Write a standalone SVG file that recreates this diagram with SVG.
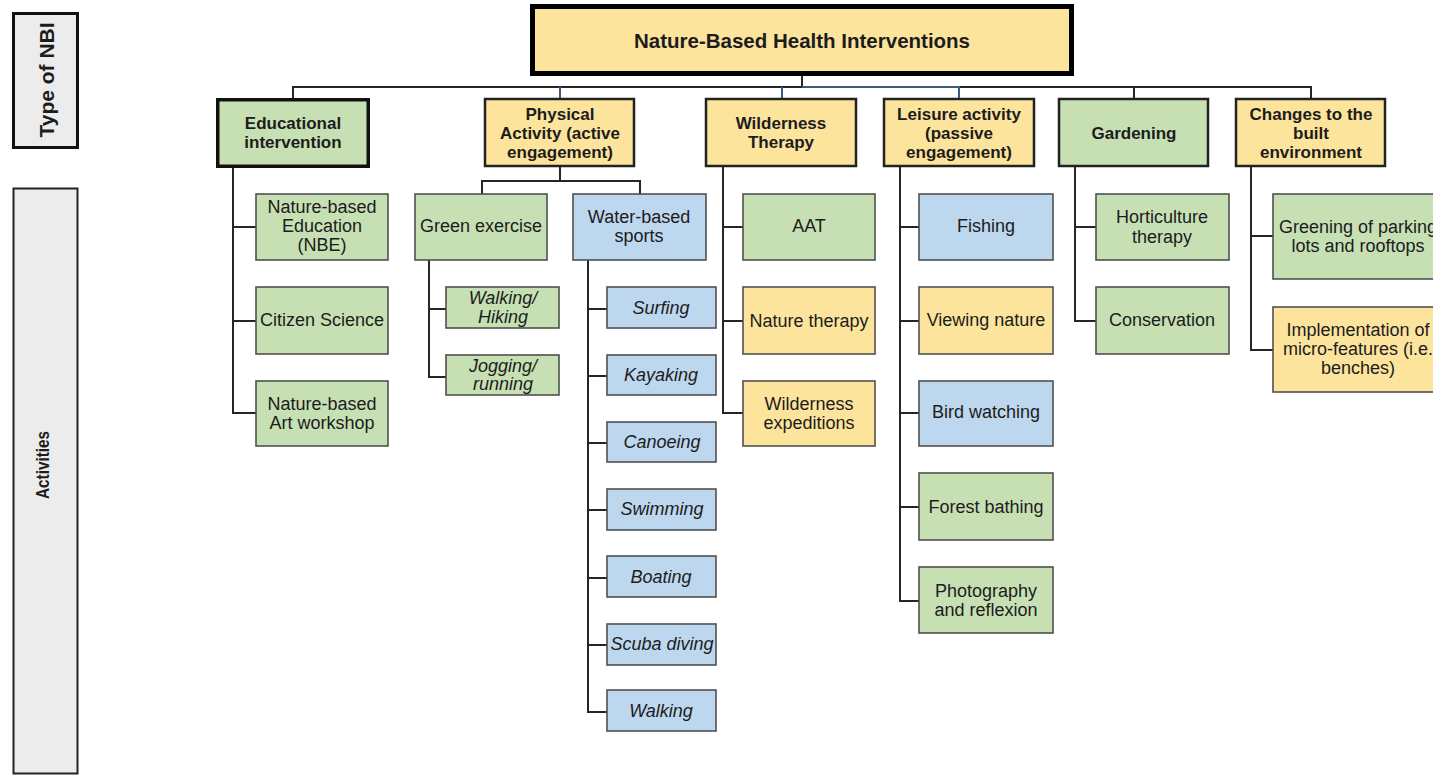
<svg xmlns="http://www.w3.org/2000/svg" width="1433" height="775" viewBox="0 0 1433 775">
<style>
  text { font-family: "Liberation Sans", Arial, sans-serif; fill: #1c1c1c; text-anchor: middle; dominant-baseline: central; }
  .t { font-size: 18px; }
  .it { font-size: 18px; font-style: italic; }
  .l1 { font-size: 17px; font-weight: bold; }
  .title { font-size: 20.5px; font-weight: bold; }
  .side { font-size: 21px; font-weight: bold; }
  .act { font-size: 18px; font-weight: bold; }
  .y { fill: #fde49c; }
  .g { fill: #c6e0b4; }
  .b { fill: #bdd7ee; }
  .child { stroke: #505050; stroke-width: 1.6; }
  .lvl1 { stroke: #222; stroke-width: 2.5; }
  .conn line, .conn polyline { stroke: #262626; stroke-width: 2; fill: none; }
  .conn .blue { stroke: #3d5a85; }
</style>

<g id="label-type">
  <rect x="13.5" y="13.5" width="64" height="134" fill="#ececec" stroke="#111" stroke-width="3"/>
  <text class="side" transform="translate(46,80) rotate(-90)">Type of NBI</text>
</g>
<g id="label-activities">
  <rect x="13.5" y="188.5" width="64" height="585" fill="#ececec" stroke="#222" stroke-width="2"/>
  <text class="act" transform="translate(43,465) rotate(-90)" textLength="68" lengthAdjust="spacingAndGlyphs">Activities</text>
</g>

<g class="conn" id="connectors">
  <line x1="802" y1="76" x2="802" y2="87" stroke-width="3"/>
  <line x1="292" y1="87" x2="802" y2="87"/>
  <line class="blue" x1="802" y1="87" x2="960" y2="87"/>
  <line x1="960" y1="87" x2="1312" y2="87"/>
  <line x1="293" y1="87" x2="293" y2="98"/>
  <line class="blue" x1="560" y1="87" x2="560" y2="98"/>
  <line class="blue" x1="782" y1="87" x2="782" y2="98"/>
  <line class="blue" x1="959" y1="87" x2="959" y2="98"/>
  <line x1="1134" y1="87" x2="1134" y2="98"/>
  <line x1="1311" y1="87" x2="1311" y2="98"/>

  <line x1="233" y1="167" x2="233" y2="414"/>
  <line x1="233" y1="227" x2="256" y2="227"/>
  <line x1="233" y1="321" x2="256" y2="321"/>
  <line x1="233" y1="413" x2="256" y2="413"/>

  <line x1="560" y1="167" x2="560" y2="181"/>
  <polyline points="482,194 482,181 640,181 640,194"/>

  <line x1="429" y1="260" x2="429" y2="378"/>
  <line x1="429" y1="309" x2="446" y2="309"/>
  <line x1="429" y1="377" x2="446" y2="377"/>

  <line x1="588" y1="260" x2="588" y2="713"/>
  <line x1="588" y1="309" x2="607" y2="309"/>
  <line x1="588" y1="376" x2="607" y2="376"/>
  <line x1="588" y1="443" x2="607" y2="443"/>
  <line x1="588" y1="510" x2="607" y2="510"/>
  <line x1="588" y1="578" x2="607" y2="578"/>
  <line x1="588" y1="645" x2="607" y2="645"/>
  <line x1="588" y1="712" x2="607" y2="712"/>

  <line x1="723" y1="167" x2="723" y2="414"/>
  <line x1="723" y1="227" x2="743" y2="227"/>
  <line x1="723" y1="321" x2="743" y2="321"/>
  <line x1="723" y1="413" x2="743" y2="413"/>

  <line x1="900" y1="167" x2="900" y2="602"/>
  <line x1="900" y1="227" x2="919" y2="227"/>
  <line x1="900" y1="321" x2="919" y2="321"/>
  <line x1="900" y1="413" x2="919" y2="413"/>
  <line x1="900" y1="507" x2="919" y2="507"/>
  <line x1="900" y1="601" x2="919" y2="601"/>

  <line x1="1075" y1="167" x2="1075" y2="322"/>
  <line x1="1075" y1="227" x2="1096" y2="227"/>
  <line x1="1075" y1="321" x2="1096" y2="321"/>

  <line x1="1251" y1="167" x2="1251" y2="351"/>
  <line x1="1251" y1="236" x2="1273" y2="236"/>
  <line x1="1251" y1="350" x2="1273" y2="350"/>
</g>

<g id="root">
  <rect class="y" x="532.5" y="6.5" width="539" height="67" stroke="#000" stroke-width="5"/>
  <text class="title" x="802" y="40">Nature-Based Health Interventions</text>
</g>

<g id="educational">
  <rect class="g" x="217.75" y="99.75" width="150.5" height="66.5" stroke="#111" stroke-width="3.5"/>
  <text class="l1" x="293" y="123">Educational</text>
  <text class="l1" x="293" y="142">intervention</text>
</g>
<g id="physical">
  <rect class="y lvl1" x="485" y="99" width="149" height="67"/>
  <text class="l1" x="560" y="114">Physical</text>
  <text class="l1" x="560" y="133">Activity (active</text>
  <text class="l1" x="560" y="152">engagement)</text>
</g>
<g id="wilderness">
  <rect class="y lvl1" x="706" y="99" width="150" height="67"/>
  <text class="l1" x="781" y="123">Wilderness</text>
  <text class="l1" x="781" y="142">Therapy</text>
</g>
<g id="leisure">
  <rect class="y lvl1" x="884" y="99" width="150" height="67"/>
  <text class="l1" x="959" y="114">Leisure activity</text>
  <text class="l1" x="959" y="133">(passive</text>
  <text class="l1" x="959" y="152">engagement)</text>
</g>
<g id="gardening">
  <rect class="g lvl1" x="1059" y="99" width="149" height="67"/>
  <text class="l1" x="1134" y="133">Gardening</text>
</g>
<g id="built">
  <rect class="y lvl1" x="1236" y="99" width="149" height="67"/>
  <text class="l1" x="1311" y="114">Changes to the</text>
  <text class="l1" x="1311" y="133">built</text>
  <text class="l1" x="1311" y="152">environment</text>
</g>

<g id="nbe">
  <rect class="g child" x="256" y="194" width="132" height="66"/>
  <text class="t" x="322" y="207">Nature-based</text>
  <text class="t" x="322" y="226">Education</text>
  <text class="t" x="322" y="245">(NBE)</text>
</g>
<g id="citizen">
  <rect class="g child" x="256" y="287" width="132" height="67"/>
  <text class="t" x="322" y="320">Citizen Science</text>
</g>
<g id="art">
  <rect class="g child" x="256" y="381" width="132" height="65"/>
  <text class="t" x="322" y="404">Nature-based</text>
  <text class="t" x="322" y="423">Art workshop</text>
</g>

<g id="green-exercise">
  <rect class="g child" x="415" y="194" width="132" height="66"/>
  <text class="t" x="481" y="226">Green exercise</text>
</g>
<g id="water-sports">
  <rect class="b child" x="573" y="194" width="133" height="66"/>
  <text class="t" x="639" y="217">Water-based</text>
  <text class="t" x="639" y="236">sports</text>
</g>
<g id="walking-hiking">
  <rect class="g child" x="446" y="287" width="113" height="41"/>
  <text class="it" x="503" y="298">Walking/</text>
  <text class="it" x="503" y="317">Hiking</text>
</g>
<g id="jogging">
  <rect class="g child" x="446" y="355" width="113" height="40"/>
  <text class="it" x="503" y="366">Jogging/</text>
  <text class="it" x="503" y="384">running</text>
</g>

<g id="surfing"><rect class="b child" x="607" y="287" width="109" height="41"/><text class="it" x="661" y="308">Surfing</text></g>
<g id="kayaking"><rect class="b child" x="607" y="355" width="109" height="40"/><text class="it" x="661" y="375">Kayaking</text></g>
<g id="canoeing"><rect class="b child" x="607" y="422" width="109" height="40"/><text class="it" x="662" y="442">Canoeing</text></g>
<g id="swimming"><rect class="b child" x="607" y="489" width="109" height="41"/><text class="it" x="662" y="509">Swimming</text></g>
<g id="boating"><rect class="b child" x="607" y="556" width="109" height="41"/><text class="it" x="661" y="577">Boating</text></g>
<g id="scuba"><rect class="b child" x="607" y="624" width="109" height="41"/><text class="it" x="662" y="644">Scuba diving</text></g>
<g id="walking"><rect class="b child" x="607" y="690" width="109" height="41"/><text class="it" x="661" y="711">Walking</text></g>

<g id="aat"><rect class="g child" x="743" y="194" width="132" height="66"/><text class="t" x="809" y="226">AAT</text></g>
<g id="nature-therapy"><rect class="y child" x="743" y="287" width="132" height="67"/><text class="t" x="809" y="321">Nature therapy</text></g>
<g id="wild-exp">
  <rect class="y child" x="743" y="381" width="132" height="65"/>
  <text class="t" x="809" y="404">Wilderness</text>
  <text class="t" x="809" y="423">expeditions</text>
</g>

<g id="fishing"><rect class="b child" x="919" y="194" width="134" height="66"/><text class="t" x="986" y="226">Fishing</text></g>
<g id="viewing"><rect class="y child" x="919" y="287" width="134" height="67"/><text class="t" x="986" y="320">Viewing nature</text></g>
<g id="bird"><rect class="b child" x="919" y="381" width="134" height="65"/><text class="t" x="986" y="412">Bird watching</text></g>
<g id="forest"><rect class="g child" x="919" y="473" width="134" height="67"/><text class="t" x="986" y="507">Forest bathing</text></g>
<g id="photo">
  <rect class="g child" x="919" y="567" width="134" height="66"/>
  <text class="t" x="986" y="591">Photography</text>
  <text class="t" x="986" y="610">and reflexion</text>
</g>

<g id="horticulture">
  <rect class="g child" x="1096" y="194" width="133" height="66"/>
  <text class="t" x="1162" y="217">Horticulture</text>
  <text class="t" x="1162" y="237">therapy</text>
</g>
<g id="conservation"><rect class="g child" x="1096" y="287" width="133" height="67"/><text class="t" x="1162" y="320">Conservation</text></g>

<g id="greening">
  <rect class="g child" x="1273" y="194" width="172" height="85"/>
  <text class="t" x="1358" y="227">Greening of parking</text>
  <text class="t" x="1358" y="246">lots and rooftops</text>
</g>
<g id="micro">
  <rect class="y child" x="1273" y="307" width="172" height="85"/>
  <text class="t" x="1358" y="330">Implementation of</text>
  <text class="t" x="1358" y="349">micro-features (i.e.</text>
  <text class="t" x="1358" y="368">benches)</text>
</g>
</svg>
